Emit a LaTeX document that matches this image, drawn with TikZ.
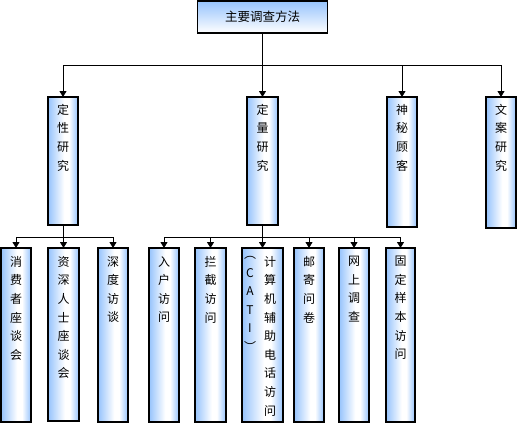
\documentclass[tikz,border=0pt]{standalone}
\usepackage{fontspec}
\newfontfamily\cjk{Noto Sans CJK SC}
\usetikzlibrary{arrows.meta}
\definecolor{boxblue}{RGB}{150,195,252}
\pgfdeclarehorizontalshading{colshade}{100bp}{color(0bp)=(boxblue); color(25bp)=(boxblue); color(52bp)=(white); color(60bp)=(white); color(75bp)=(boxblue); color(100bp)=(boxblue)}
\tikzset{
  colbox/.style={draw=black, line width=1.1pt, shading=colshade, rectangle, inner sep=0pt, outer sep=0pt},
  topbox/.style={draw=black, line width=1.1pt, top color=boxblue, bottom color=white, rectangle, inner sep=0pt, outer sep=0pt, font=\cjk\fontsize{12.5}{14}\selectfont},
  vtext/.style={anchor=north, inner sep=0pt, align=center, font=\cjk\fontsize{12}{18.6}\selectfont},
  conn/.style={line width=0.8pt, draw=black},
  arr/.style={conn, -{Triangle[width=7pt,length=6pt]}}
}
\begin{document}
\begin{tikzpicture}[x=1pt,y=-1pt]
\useasboundingbox (0,0) rectangle (517,424);
% top
\node[topbox, minimum width=130pt, minimum height=32pt] (top) at (262.5,17) {主要调查方法};
% level 1
\node[colbox, minimum width=30pt, minimum height=128pt] (qual) at (63,161) {};
\node[colbox, minimum width=31pt, minimum height=128pt] (quan) at (262.5,161) {};
\node[colbox, minimum width=30pt, minimum height=130pt] (myst) at (402,162) {};
\node[colbox, minimum width=30pt, minimum height=131pt] (desk) at (501,162.5) {};
% level 2
\node[colbox, minimum width=30pt, minimum height=174pt] (c1) at (16,335) {};
\node[colbox, minimum width=31pt, minimum height=173pt] (c2) at (63.5,334.5) {};
\node[colbox, minimum width=30pt, minimum height=174pt] (c3) at (113,335) {};
\node[colbox, minimum width=30pt, minimum height=174pt] (d1) at (164,335) {};
\node[colbox, minimum width=31pt, minimum height=174pt] (d2) at (210.5,335) {};
\node[colbox, minimum width=41pt, minimum height=174pt] (d3) at (262.5,335) {};
\node[colbox, minimum width=30pt, minimum height=174pt] (d4) at (309,335) {};
\node[colbox, minimum width=30pt, minimum height=174pt] (d5) at (354,335) {};
\node[colbox, minimum width=29pt, minimum height=174pt] (d6) at (400.5,335) {};
% texts
\node[vtext] (tqual) at ([yshift=-7pt]qual.north) {定\\性\\研\\究};
\node[vtext] (tquan) at ([yshift=-7pt]quan.north) {定\\量\\研\\究};
\node[vtext] (tmyst) at ([yshift=-7pt]myst.north) {神\\秘\\顾\\客};
\node[vtext] (tdesk) at ([yshift=-7pt]desk.north) {文\\案\\研\\究};
\node[vtext] (tc1) at ([yshift=-8pt]c1.north) {消\\费\\者\\座\\谈\\会};
\node[vtext] (tc2) at ([yshift=-8pt]c2.north) {资\\深\\人\\士\\座\\谈\\会};
\node[vtext] (tc3) at ([yshift=-8pt]c3.north) {深\\度\\访\\谈};
\node[vtext] (td1) at ([yshift=-8pt]d1.north) {入\\户\\访\\问};
\node[vtext] (td2) at ([yshift=-8pt]d2.north) {拦\\截\\访\\问};
\node[vtext] (td3r) at ([xshift=7.5pt,yshift=-8pt]d3.north) {计\\算\\机\\辅\\助\\电\\话\\访\\问};
\node[vtext] (td3l) at ([xshift=-12.5pt,yshift=-8pt]d3.north) {︵\\C\\A\\T\\I\\︶};
\node[vtext] (td4) at ([yshift=-8pt]d4.north) {邮\\寄\\问\\卷};
\node[vtext] (td5) at ([yshift=-8pt]d5.north) {网\\上\\调\\查};
\node[vtext] (td6) at ([yshift=-8pt]d6.north) {固\\定\\样\\本\\访\\问};
% connectors level 1
\coordinate (b1) at (0,65);
\draw[conn] (qual.north |- b1) -- (desk.north |- b1);
\draw[arr] (top.south) -- (quan.north);
\draw[arr] (qual.north |- b1) -- (qual.north);
\draw[arr] (myst.north |- b1) -- (myst.north);
\draw[arr] (desk.north |- b1) -- (desk.north);
% connectors level 2
\coordinate (b2) at (0,237);
\draw[conn] (qual.south) -- (qual.south |- b2);
\draw[conn] (c1.north |- b2) -- (c3.north |- b2);
\draw[arr] (c1.north |- b2) -- (c1.north);
\draw[arr] (c2.north |- b2) -- (c2.north);
\draw[arr] (c3.north |- b2) -- (c3.north);
\draw[conn] (quan.south) -- (quan.south |- b2);
\draw[conn] (d1.north |- b2) -- (d6.north |- b2);
\draw[arr] (d1.north |- b2) -- (d1.north);
\draw[arr] (d2.north |- b2) -- (d2.north);
\draw[arr] (d3.north |- b2) -- (d3.north);
\draw[arr] (d4.north |- b2) -- (d4.north);
\draw[arr] (d5.north |- b2) -- (d5.north);
\draw[arr] (d6.north |- b2) -- (d6.north);
\end{tikzpicture}
\end{document}
